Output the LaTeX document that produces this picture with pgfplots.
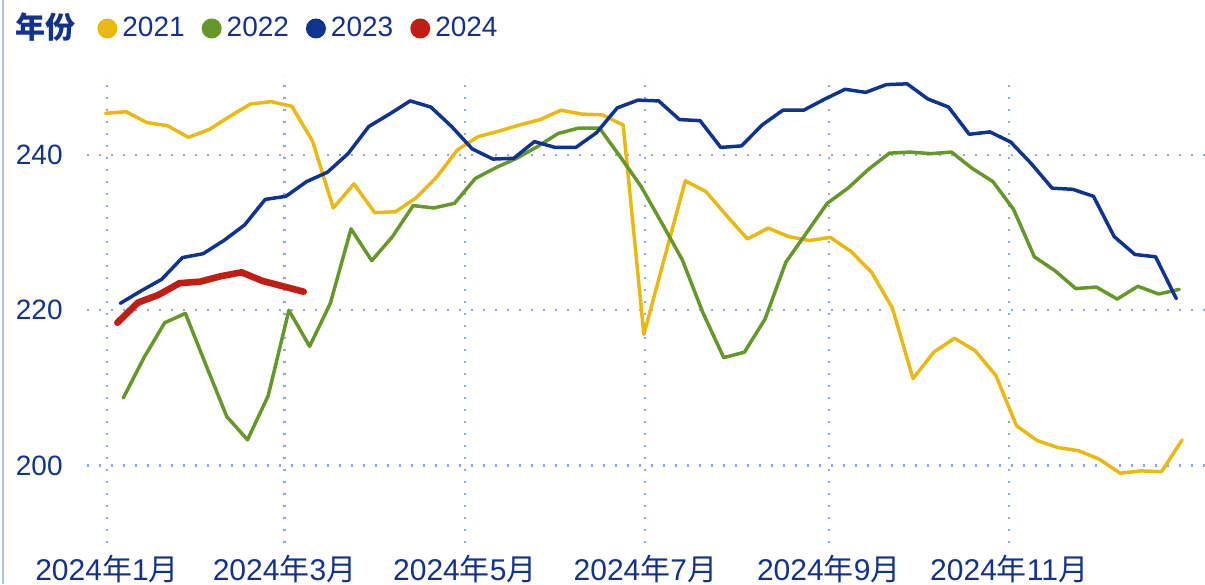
\documentclass[border=0pt]{standalone}
\usepackage{fontspec}
\setmainfont{Liberation Sans}
\newfontfamily\cjk{Noto Sans CJK SC}
\usepackage{pgfplots}
\pgfplotsset{compat=1.18}
\definecolor{c21}{RGB}{233,185,16}
\definecolor{c22}{RGB}{101,152,41}
\definecolor{c23}{RGB}{14,51,145}
\definecolor{c24}{RGB}{192,30,20}
\definecolor{txt}{RGB}{18,50,140}
\definecolor{gridc}{RGB}{140,165,240}
\definecolor{leftc}{RGB}{175,195,235}
\begin{document}
\begin{tikzpicture}
\path[use as bounding box] (0pt,0pt) rectangle (602.5pt,292pt);
\draw[leftc, line width=0.6pt] (1.5pt,0pt) -- (1.5pt,292pt);
\node[anchor=west, inner sep=0pt, text=txt, font=\cjk\bfseries\fontsize{15}{17}\selectfont] at (7.5pt,278.5pt) {年份};
\begin{axis}[
  at={(43.5pt,20.5pt)}, anchor=south west,
  scale only axis, width=559pt, height=234pt,
  xmin=-6.76, xmax=371.2, ymin=190, ymax=250.34,
  clip=false,
  axis line style={draw=none},
  major tick length=0pt,
  tick style={draw=none},
  xtick={0,60,121,182,244,305},
  xticklabels={2024{\cjk 年}1{\cjk 月},2024{\cjk 年}3{\cjk 月},2024{\cjk 年}5{\cjk 月},2024{\cjk 年}7{\cjk 月},2024{\cjk 年}9{\cjk 月},2024{\cjk 年}11{\cjk 月}},
  ytick={200,220,240},
  /pgf/number format/assume math mode=true,
  xticklabel style={anchor=base, inner sep=0pt, yshift=-18.5pt, text=txt, font=\fontsize{15}{17}\selectfont},
  yticklabel style={anchor=east, inner sep=0pt, xshift=-12pt, text=txt, font=\fontsize{14}{16}\selectfont},
  grid=major,
  major grid style={gridc, line width=1.1pt, dash pattern=on 1.1pt off 4.9pt},
  legend columns=4,
  legend style={at={(axis description cs:0.00894,1.0994)}, anchor=west, draw=none, fill=none, inner sep=0pt,
    nodes={inner sep=0pt, text=txt, font=\fontsize{14}{16}\selectfont},
    /tikz/every odd column/.append style={column sep=2.5pt},
    /tikz/every even column/.append style={column sep=8.5pt}},
  legend image code/.code={\fill[#1, draw=none] (5pt,0pt) circle (5pt);},
  every axis plot/.append style={line join=round, line cap=round},
]
\addplot[c21, line width=1.75pt] coordinates {
(-0.5,245.4)(6.5,245.6)(13.5,244.2)(20.5,243.8)(27.5,242.3)(34.5,243.3)(41.5,245.0)(48.5,246.6)(55.5,246.9)(62.5,246.3)
(69.5,241.8)(76.5,233.2)(83.5,236.3)(90.5,232.6)(97.5,232.7)(104.5,234.5)(111.5,237.2)(118.5,240.7)(125.5,242.4)(132.5,243.1)
(139.5,243.9)(146.5,244.6)(153.5,245.8)(160.5,245.3)(167.5,245.2)(174.5,243.9)(181.5,216.9)(188.5,226.8)(195.5,236.7)(202.5,235.3)
(209.5,232.2)(216.5,229.2)(223.5,230.6)(230.5,229.5)(237.5,229.0)(244.5,229.4)(251.5,227.6)(258.5,224.9)(265.5,220.3)(272.5,211.2)
(279.5,214.6)(286.5,216.4)(293.5,214.8)(300.5,211.6)(307.5,205.1)(314.5,203.2)(321.5,202.3)(328.5,201.9)(335.5,200.8)(342.5,199.0)
(349.5,199.3)(356.5,199.2)(363.5,203.3)};
\addlegendentry{2021}
\addplot[c22, line width=1.75pt] coordinates {
(5.5,208.7)(12.5,213.9)(19.5,218.4)(26.5,219.6)(33.5,212.9)(40.5,206.3)(47.5,203.3)(54.5,209.0)(61.5,220.0)(68.5,215.35)
(75.5,220.9)(82.5,230.5)(89.5,226.4)(96.5,229.5)(103.5,233.5)(110.5,233.2)(117.5,233.8)(124.5,237.0)(131.5,238.4)(138.5,239.6)
(145.5,241.1)(152.5,242.8)(159.5,243.5)(166.5,243.5)(173.5,239.8)(180.5,236.0)(187.5,231.3)(194.5,226.5)(201.5,219.65)(208.5,213.9)
(215.5,214.6)(222.5,218.9)(229.5,226.2)(236.5,230.0)(243.5,233.8)(250.5,235.75)(257.5,238.2)(264.5,240.26)(271.5,240.4)(278.5,240.2)
(285.5,240.4)(292.5,238.3)(299.5,236.6)(306.5,233.0)(313.5,226.9)(320.5,225.1)(327.5,222.8)(334.5,223.0)(341.5,221.45)(348.5,223.1)
(355.5,222.1)(362.5,222.7)};
\addlegendentry{2022}
\addplot[c23, line width=1.75pt] coordinates {
(4.5,220.9)(11.5,222.5)(18.5,224.0)(25.5,226.8)(32.5,227.3)(39.5,229.0)(46.5,231.0)(53.5,234.3)(60.5,234.7)(67.5,236.6)
(74.5,237.8)(81.5,240.2)(88.5,243.7)(95.5,245.3)(102.5,247.0)(109.5,246.2)(116.5,243.7)(123.5,240.8)(130.5,239.5)(137.5,239.6)
(144.5,241.75)(151.5,241.0)(158.5,241.0)(165.5,242.9)(172.5,246.1)(179.5,247.1)(186.5,247.0)(193.5,244.6)(200.5,244.45)(207.5,241.0)
(214.5,241.2)(221.5,243.9)(228.5,245.8)(235.5,245.8)(242.5,247.2)(249.5,248.5)(256.5,248.1)(263.5,249.1)(270.5,249.2)(277.5,247.25)
(284.5,246.2)(291.5,242.7)(298.5,243.0)(305.5,241.7)(312.5,238.9)(319.5,235.75)(326.5,235.6)(333.5,234.7)(340.5,229.5)(347.5,227.2)
(354.5,226.9)(361.5,221.5)};
\addlegendentry{2023}
\addplot[c24, line width=3.3pt] coordinates {
(3.5,218.4)(10.5,221.0)(17.5,222.0)(24.5,223.5)(31.5,223.7)(38.5,224.4)(45.5,224.9)(52.5,223.8)(59.5,223.1)(66.5,222.4)};
\addlegendentry{2024}
\end{axis}
\end{tikzpicture}
\end{document}
